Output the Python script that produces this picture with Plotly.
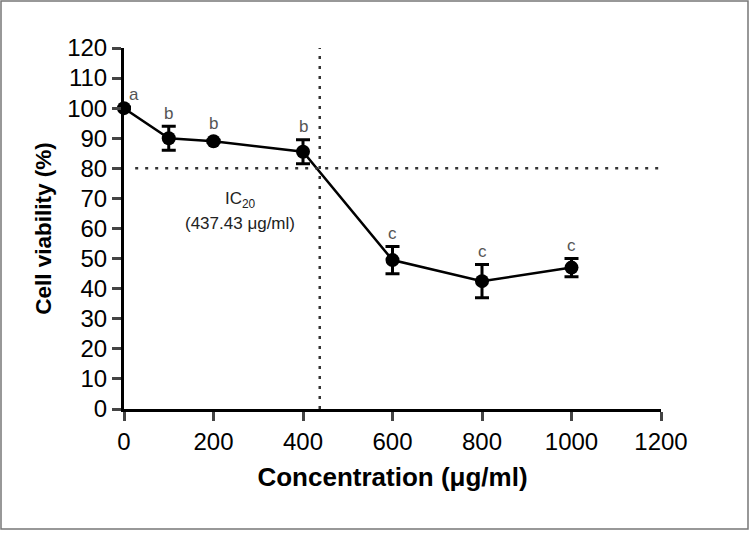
import plotly.graph_objects as go

conc = [0, 100, 200, 400, 600, 800, 1000]
viability = [100, 90, 89, 85.5, 49.5, 42.5, 47]
errors = [0.3, 4, 0.3, 4, 4.5, 5.5, 3]
letters = ["a", "b", "b", "b", "c", "c", "c"]
ic20 = 437.43
x_ticks = [0, 200, 400, 600, 800, 1000, 1200]
y_ticks = list(range(0, 121, 10))

L, R, T, B = 124, 89, 48, 124
W, H = 750, 533
pw, ph = W - L - R, H - T - B

fig = go.Figure()
fig.add_trace(go.Scatter(
    x=conc, y=viability, mode="lines+markers",
    line=dict(color="black", width=2.5),
    marker=dict(color="black", size=14),
    error_y=dict(type="data", array=errors, color="black", thickness=3, width=7),
    showlegend=False, cliponaxis=False, hoverinfo="skip",
))
# letters
letter_y = [v + max(e, 1.5) for v, e in zip(viability, errors)]
for xv, yv, ly, t in zip(conc, viability, letter_y, letters):
    if t == "a":
        fig.add_annotation(x=xv, y=yv, text=t, showarrow=False, xshift=10, yshift=14,
                           font=dict(size=17, color="#555", family="Liberation Sans"))
    else:
        fig.add_annotation(x=xv, y=ly, text=t, showarrow=False, yshift=13,
                           font=dict(size=17, color="#555", family="Liberation Sans"))

# IC20 lines
fig.add_shape(type="line", x0=25, x1=1200, y0=80, y1=80,
              line=dict(color="#333", width=2.5, dash="3px,7px"))
fig.add_shape(type="line", x0=ic20, x1=ic20, y0=0, y1=120,
              line=dict(color="#333", width=2.5, dash="3px,7px"))
fig.add_annotation(x=260, y=69.5, text="IC<sub>20</sub>", showarrow=False,
                   font=dict(size=17, color="#222", family="Liberation Sans"))
fig.add_annotation(x=260, y=61.5, text="(437.43 μg/ml)", showarrow=False,
                   font=dict(size=17, color="#222", family="Liberation Sans"))

# outer border
def px2x(p):
    return (p - L) / pw
def py2y(p):
    return (H - B - p) / ph
fig.add_shape(type="rect", xref="paper", yref="paper",
              x0=px2x(1), x1=px2x(748), y0=py2y(1), y1=py2y(529),
              line=dict(color="#777", width=1.5))

axis_font = dict(size=24, color="black", family="Liberation Sans")
fig.update_xaxes(range=[0, 1200], tickvals=x_ticks, ticks="outside", ticklen=9, tickwidth=3,
                 showline=True, linewidth=3, linecolor="black", showgrid=False, zeroline=False,
                 tickfont=axis_font,
                 title=dict(text="<b>Concentration (μg/ml)</b>",
                            font=dict(size=26, color="black", family="Liberation Sans"), standoff=15))
fig.update_yaxes(range=[0, 120], tickvals=y_ticks, ticks="outside", ticklen=9, tickwidth=3,
                 showline=True, linewidth=3, linecolor="black", showgrid=False, zeroline=False,
                 tickfont=axis_font,
                 title=dict(text="<b>Cell viability (%)</b>",
                            font=dict(size=22.5, color="black", family="Liberation Sans"), standoff=10))
fig.update_layout(width=W, height=H, margin=dict(l=L, r=R, t=T, b=B, autoexpand=False),
                  plot_bgcolor="white", paper_bgcolor="white", hovermode=False)
fig.write_html("out.html", config={"displayModeBar": False},
               post_script="document.body.style.margin='0';")
